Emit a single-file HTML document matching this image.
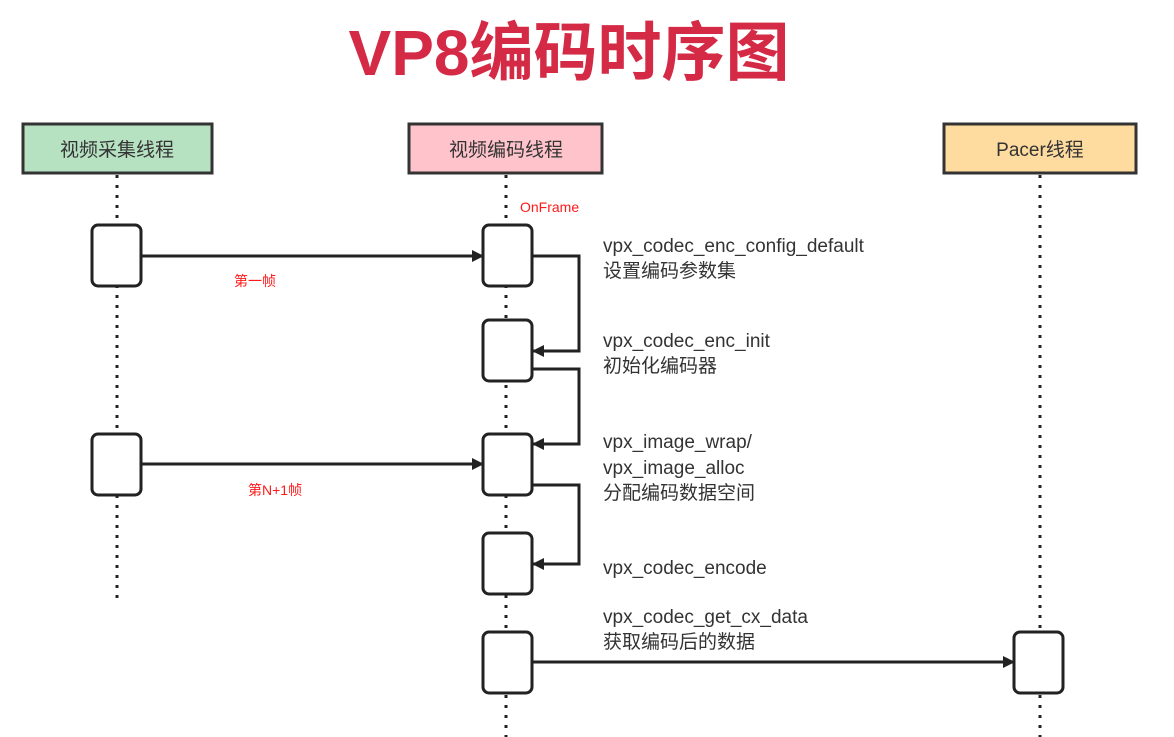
<!DOCTYPE html>
<html><head><meta charset="utf-8"><style>
html,body{margin:0;padding:0;background:#fff;}
svg{display:block;}
</style></head><body>
<svg width="1174" height="737" viewBox="0 0 1174 737" xmlns="http://www.w3.org/2000/svg">
<defs>
<marker id="a" markerWidth="12" markerHeight="12" refX="11" refY="6" orient="auto" markerUnits="userSpaceOnUse">
<path d="M0,0 L12,6 L0,12 z" fill="#222"/>
</marker>
</defs>
<text x="569" y="75" text-anchor="middle" font-family="'Liberation Sans','Noto Sans CJK SC',sans-serif" font-weight="bold" font-size="64" fill="#d42a45">VP8编码时序图</text>

<g stroke="#222" stroke-width="3" stroke-dasharray="3,7" fill="none">
<line x1="117" y1="175" x2="117" y2="605"/>
<line x1="506" y1="175" x2="506" y2="737"/>
<line x1="1040" y1="175" x2="1040" y2="737"/>
</g>

<g stroke="#333" stroke-width="3" font-family="'Liberation Sans','Noto Sans CJK SC',sans-serif" font-size="19">
<rect x="23" y="124" width="189" height="49" fill="#b7e2c2"/>
<rect x="409" y="124" width="193" height="49" fill="#ffc4cb"/>
<rect x="944" y="124" width="192" height="49" fill="#fedc9f"/>
</g>
<g font-family="'Liberation Sans','Noto Sans CJK SC',sans-serif" font-size="19" fill="#333" text-anchor="middle">
<text x="117" y="156">视频采集线程</text>
<text x="506" y="156">视频编码线程</text>
<text x="1040" y="156">Pacer线程</text>
</g>

<g stroke="#222" stroke-width="3" fill="#fff">
<rect x="92" y="225" width="49" height="61" rx="6"/>
<rect x="92" y="434" width="49" height="61" rx="6"/>
<rect x="483" y="225" width="49" height="61" rx="6"/>
<rect x="483" y="320" width="49" height="61" rx="6"/>
<rect x="483" y="434" width="49" height="61" rx="6"/>
<rect x="483" y="533" width="49" height="61" rx="6"/>
<rect x="483" y="632" width="49" height="61" rx="6"/>
<rect x="1014" y="632" width="49" height="61" rx="6"/>
</g>

<g stroke="#222" stroke-width="3" fill="none" marker-end="url(#a)">
<line x1="141" y1="256" x2="483" y2="256"/>
<line x1="141" y1="464" x2="483" y2="464"/>
<line x1="532" y1="662" x2="1014" y2="662"/>
<polyline points="532,256 579,256 579,351 533,351"/>
<polyline points="532,369 579,369 579,444 533,444"/>
<polyline points="532,485 579,485 579,564 533,564"/>
</g>

<g font-family="'Liberation Sans','Noto Sans CJK SC',sans-serif" font-size="14" fill="#ff1a1a">
<text x="520" y="212">OnFrame</text>
<text x="234" y="286">第一帧</text>
<text x="248" y="495">第N+1帧</text>
</g>

<g font-family="'Liberation Sans','Noto Sans CJK SC',sans-serif" font-size="19" fill="#333">
<text x="603" y="252">vpx_codec_enc_config_default</text>
<text x="603" y="277">设置编码参数集</text>
<text x="603" y="347">vpx_codec_enc_init</text>
<text x="603" y="372">初始化编码器</text>
<text x="603" y="448">vpx_image_wrap/</text>
<text x="603" y="474">vpx_image_alloc</text>
<text x="603" y="499">分配编码数据空间</text>
<text x="603" y="574">vpx_codec_encode</text>
<text x="603" y="623">vpx_codec_get_cx_data</text>
<text x="603" y="648">获取编码后的数据</text>
</g>
</svg>
</body></html>
